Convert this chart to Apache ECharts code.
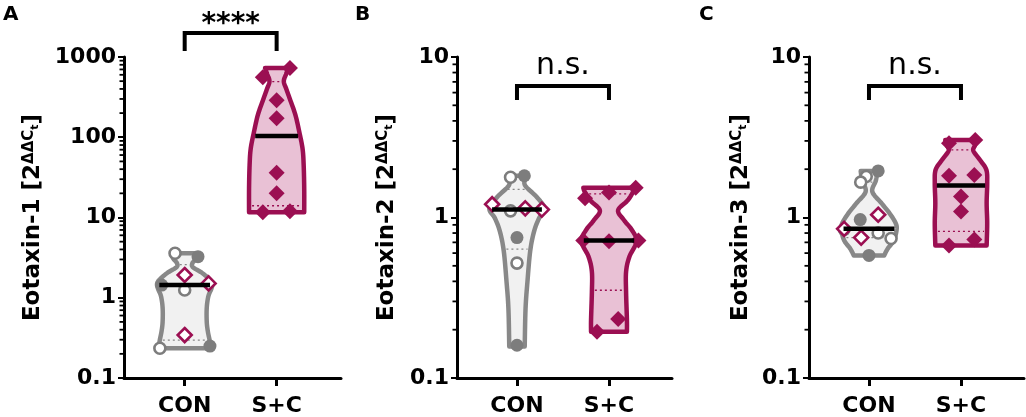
<!DOCTYPE html>
<html><head><meta charset="utf-8">
<script src="https://cdn.jsdelivr.net/npm/echarts@6/dist/echarts.min.js"></script>
<style>html,body{margin:0;padding:0;background:#fff}#c{width:1026px;height:417px}</style>
</head><body><div id="c"></div>
<script>
// ---------------- data ----------------
const groups = ['CON', 'S+C'];
const panelLetters = ['A', 'B', 'C'];
const yTitles = ['Eotaxin-1', 'Eotaxin-2', 'Eotaxin-3'];
const yMaxes = [1000, 10, 10];
const yMin = 0.1;
const minorTickFactors = [2, 3, 4, 5, 6, 7, 8, 9];
const sigLabels = ['****', 'n.s.', 'n.s.'];
const bracketTop = [1990, 6.6, 6.6];
const bracketFoot = [1190, 5.4, 5.4];

// Panel A
const aConFilled = [3.25, 1.44, 0.25];
const aConFilledX = [0.145, -0.25, 0.275];
const aConOpen = [3.58, 1.25, 0.235];
const aConOpenX = [-0.105, 0, -0.27];
const aConDiamond = [1.92, 1.51, 0.343];
const aConDiamondX = [0, 0.26, 0];
const aScDiamond = [730, 560, 290, 172, 36, 20, 12, 11.6];
const aScDiamondX = [0.145, -0.15, 0, 0, 0, 0, 0.145, -0.15];
const aConViolin = [[0.235,0.95],[0.3,0.9],[0.38,0.84],[0.5,0.8],[0.75,0.8],[1.05,0.86],[1.3,0.97],[1.5,1.0],[1.7,0.9],[2.05,0.62],[2.4,0.3],[2.7,0.28],[3.1,0.42],[3.58,0.45]];
const aScViolin = [[11.6,1.0],[23,1.0],[45,0.98],[72,0.94],[117,0.82],[190,0.68],[300,0.48],[400,0.35],[500,0.26],[620,0.35],[730,0.42]];

// Panel B
const bConFilled = [1.82, 0.75, 0.16];
const bConFilledX = [0.08, 0, 0];
const bConOpen = [1.78, 1.10, 0.52];
const bConOpenX = [-0.07, -0.07, 0];
const bConDiamond = [1.21, 1.14, 1.12];
const bConDiamondX = [-0.27, 0.09, 0.27];
const bScDiamond = [1.53, 1.43, 1.32, 0.72, 0.71, 0.72, 0.233, 0.194];
const bScDiamondX = [0.29, 0, -0.26, -0.28, 0, 0.32, 0.10, -0.13];
const bConViolin = [[0.157,0.28],[0.27,0.31],[0.4,0.38],[0.62,0.48],[0.82,0.62],[0.99,0.8],[1.14,1.0],[1.35,0.7],[1.6,0.28],[1.82,0.36]];
const bScViolin = [[0.194,0.65],[0.23,0.65],[0.34,0.62],[0.46,0.62],[0.57,0.74],[0.71,1.0],[0.836,0.83],[0.965,0.54],[1.11,0.33],[1.28,0.68],[1.45,0.88],[1.53,0.93]];

// Panel C
const cConFilled = [1.95, 0.97, 0.58, 0.84];
const cConFilledX = [0.10, -0.095, 0, -0.27];
const cConOpen = [1.80, 1.66, 0.80, 0.74];
const cConOpenX = [-0.03, -0.09, 0.10, 0.24];
const cConDiamond = [1.04, 0.85, 0.75];
const cConDiamondX = [0.10, -0.27, -0.085];
const cScDiamond = [3.04, 2.9, 1.84, 1.82, 1.35, 1.09, 0.73, 0.67];
const cScDiamondX = [0.155, -0.13, 0.145, -0.13, 0, 0, 0.145, -0.13];
const cConViolin = [[0.58,0.55],[0.64,0.68],[0.72,0.9],[0.836,1.0],[0.92,0.97],[1.06,0.75],[1.23,0.45],[1.45,0.12],[1.7,0.25],[1.95,0.3]];
const cScViolin = [[0.67,0.93],[0.92,0.95],[1.23,0.93],[1.63,0.95],[1.98,0.92],[2.28,0.69],[2.6,0.45],[2.8,0.5],[3.04,0.57]];

// ---------------- layout / style ----------------
const FONT = 'DejaVu Sans';
const GRAY = '#888888', GRAY_FILL = '#f1f1f1', GRAY_PT = '#7d7d7d';
const MAG = '#9b0f52', PINK = '#e9c1d5';
const MAXW = 0.30;
const layout = [
  {left:124, width:217, xMin:-0.66, xMax:1.70, nameGap:79, letterX:3, sigDy:-8, sigSize:28},
  {left:457, width:215, xMin:-0.652, xMax:1.685, nameGap:58, letterX:355, sigDy:-20, sigSize:30},
  {left:809, width:215, xMin:-0.652, xMax:1.685, nameGap:56, letterX:699, sigDy:-20, sigSize:30}
];
const GRID_TOP = 57, GRID_H = 321;

const panels = [
  {con:aConViolin, sc:aScViolin,
   conMarks:[[aConFilled,aConFilledX,'fc'],[aConOpen,aConOpenX,'oc'],[aConDiamond,aConDiamondX,'od']],
   scMarks:[[aScDiamond,aScDiamondX,'fd']]},
  {con:bConViolin, sc:bScViolin,
   conMarks:[[bConFilled,bConFilledX,'fc'],[bConOpen,bConOpenX,'oc'],[bConDiamond,bConDiamondX,'od']],
   scMarks:[[bScDiamond,bScDiamondX,'fd']]},
  {con:cConViolin, sc:cScViolin,
   conMarks:[[cConFilled,cConFilledX,'fc'],[cConOpen,cConOpenX,'oc'],[cConDiamond,cConDiamondX,'od']],
   scMarks:[[cScDiamond,cScDiamondX,'fd']]}
];

function profileAt(profile, v) {
  const lv = Math.log10(v);
  for (let i = 0; i < profile.length - 1; i++) {
    const a = Math.log10(profile[i][0]), b = Math.log10(profile[i+1][0]);
    if (lv >= a && lv <= b) { const t = (lv - a) / (b - a); return profile[i][1] + (profile[i+1][1] - profile[i][1]) * t; }
  }
  return lv < Math.log10(profile[0][0]) ? profile[0][1] : profile[profile.length-1][1];
}
function quantile(vals, p) {
  const s = vals.slice().sort((a,b)=>a-b), n = s.length;
  let pos = (n + 1) * p; pos = Math.max(1, Math.min(n, pos));
  const lo = Math.floor(pos), hi = Math.ceil(pos), t = pos - lo;
  return s[lo-1] + (s[hi-1] - s[lo-1]) * t;
}
// Catmull-Rom smoothing of an outline side (pixel space, drawing only)
function smoothSide(pts) {
  const out = [], n = pts.length, STEPS = 8;
  for (let i = 0; i < n - 1; i++) {
    const p0 = pts[Math.max(0, i-1)], p1 = pts[i], p2 = pts[i+1], p3 = pts[Math.min(n-1, i+2)];
    for (let s = 0; s < STEPS; s++) {
      const t = s / STEPS, t2 = t*t, t3 = t2*t;
      const f = k => 0.5 * ((2*p1[k]) + (-p0[k] + p2[k]) * t + (2*p0[k] - 5*p1[k] + 4*p2[k] - p3[k]) * t2 + (-p0[k] + 3*p1[k] - 3*p2[k] + p3[k]) * t3);
      out.push([f(0), f(1)]);
    }
  }
  out.push(pts[n-1]);
  return out;
}
const markStyle = {
  fc: {symbol:'circle', symbolSize:13, itemStyle:{color:GRAY_PT, opacity:1}},
  oc: {symbol:'circle', symbolSize:11, itemStyle:{color:'#fff', borderColor:GRAY_PT, borderWidth:2.6, opacity:1}},
  od: {symbol:'diamond', symbolSize:14, itemStyle:{color:'#fff', borderColor:MAG, borderWidth:2.6, opacity:1}},
  fd: {symbol:'diamond', symbolSize:16, itemStyle:{color:MAG, opacity:1}}
};

const grid = [], xAxis = [], yAxis = [], series = [], graphic = [];
const txt = {fontFamily:FONT, fontWeight:'bold', color:'#000'};

panels.forEach((P, i) => {
  const L = layout[i];
  grid.push({left:L.left, top:GRID_TOP, width:L.width, height:GRID_H});
  xAxis.push({type:'value', gridIndex:i, min:L.xMin, max:L.xMax,
    axisLine:{onZero:false, lineStyle:{color:'#000', width:3}},
    axisTick:{customValues:[0,1], length:8, lineStyle:{color:'#000', width:3}},
    axisLabel:Object.assign({customValues:[0,1], formatter:v=>groups[Math.round(v)], fontSize:22, margin:17}, txt),
    splitLine:{show:false}});
  yAxis.push({type:'log', logBase:10, gridIndex:i, min:yMin, max:yMaxes[i],
    axisLine:{show:true, onZero:false, lineStyle:{color:'#000', width:3}},
    axisTick:{show:true, length:6, lineStyle:{color:'#000', width:2}},
    axisLabel:Object.assign({fontSize:22, margin:8, formatter:v=>String(+(+v).toPrecision(3))}, txt),
    splitLine:{show:false},
    name:'{b|' + yTitles[i] + ' [2}{sup|ΔΔC}{sub|t}{b|]}',
    nameLocation:'middle', nameGap:L.nameGap, nameRotate:90,
    nameTextStyle:{fontFamily:FONT, fontWeight:'bold', color:'#000', fontSize:23,
      rich:{b:{fontFamily:FONT, fontWeight:'bold', fontSize:23, color:'#000'},
            sup:{fontFamily:FONT, fontWeight:'bold', fontSize:15, color:'#000', verticalAlign:'top'},
            sub:{fontFamily:FONT, fontWeight:'bold', fontSize:11, color:'#000', verticalAlign:'top', padding:[8,0,0,0]}}}
  });
  const xi = i, yi = i;
  const groupsDef = [[P.con, 0, GRAY, GRAY_FILL, P.conMarks, GRAY], [P.sc, 1, MAG, PINK, P.scMarks, MAG]];
  groupsDef.forEach(([prof, gi, stroke, fill, marks, dotColor]) => {
    const allVals = [].concat(...marks.map(m => m[0]));
    const med = quantile(allVals, 0.5);
    // violin body
    series.push({type:'custom', xAxisIndex:xi, yAxisIndex:yi, z:2, clip:false, silent:true,
      data:[[gi, med]],
      renderItem:(params, api) => {
        const right = smoothSide(prof.map(([v,w]) => api.coord([gi + w*MAXW, v])));
        const left = smoothSide(prof.map(([v,w]) => api.coord([gi - w*MAXW, v]))).reverse();
        return {type:'polygon', shape:{points:right.concat(left)},
          style:{fill:fill, stroke:stroke, lineWidth:4.5, lineJoin:'round'}};
      }});
    // quartiles
    series.push({type:'custom', xAxisIndex:xi, yAxisIndex:yi, z:3, clip:false, silent:true,
      data:[[gi, med]],
      renderItem:(params, api) => {
        const ch = [0.25, 0.75].map(p => {
          const q = quantile(allVals, p), w = profileAt(prof, q) * MAXW;
          const a = api.coord([gi - w, q]), b = api.coord([gi + w, q]);
          return {type:'line', shape:{x1:a[0]+3, y1:a[1], x2:b[0]-3, y2:b[1]},
            style:{stroke:dotColor, lineWidth:1.3, lineDash:[2,3]}};
        });
        return {type:'group', children:ch};
      }});
    // points
    marks.forEach(([vals, xs, kind]) => {
      const st = markStyle[kind];
      series.push({type:'scatter', xAxisIndex:xi, yAxisIndex:yi, z:4, silent:true,
        symbol:st.symbol, symbolSize:st.symbolSize, itemStyle:st.itemStyle,
        data:vals.map((v,k) => [gi + xs[k], v])});
    });
    // median
    series.push({type:'custom', xAxisIndex:xi, yAxisIndex:yi, z:5, clip:false, silent:true,
      data:[[gi, med]],
      renderItem:(params, api) => {
        const w = profileAt(prof, med) * MAXW;
        const a = api.coord([gi - w, med]), b = api.coord([gi + w, med]);
        return {type:'line', shape:{x1:a[0]+2, y1:a[1], x2:b[0]-2, y2:b[1]}, style:{stroke:'#000', lineWidth:4.5}};
      }});
  });
  // minor ticks
  series.push({type:'custom', xAxisIndex:xi, yAxisIndex:yi, z:1, clip:false, silent:true,
    data:[[L.xMin, 1]],
    renderItem:(params, api) => {
      const ch = [];
      for (let d = yMin; d < yMaxes[i] * 0.99; d *= 10) {
        minorTickFactors.forEach(f => {
          const p = api.coord([L.xMin, f * d]);
          ch.push({type:'line', shape:{x1:p[0]-4.5, y1:p[1], x2:p[0], y2:p[1]}, style:{stroke:'#000', lineWidth:1.8}});
        });
      }
      return {type:'group', children:ch};
    }});
  // significance bracket
  series.push({type:'custom', xAxisIndex:xi, yAxisIndex:yi, z:5, clip:false, silent:true,
    data:[[0, bracketTop[i]]],
    renderItem:(params, api) => {
      const p0 = api.coord([0, bracketFoot[i]]), p1 = api.coord([0, bracketTop[i]]);
      const p2 = api.coord([1, bracketTop[i]]), p3 = api.coord([1, bracketFoot[i]]);
      return {type:'group', children:[
        {type:'polyline', shape:{points:[p0,p1,p2,p3]}, style:{stroke:'#000', fill:null, lineWidth:4, lineJoin:'miter'}},
        {type:'text', x:(p1[0]+p2[0])/2, y:p1[1] + L.sigDy,
         style:{text:sigLabels[i], fontFamily:FONT, fontWeight: i === 0 ? 'bold' : 'normal', fontSize:L.sigSize, fill:'#000', align:'center', verticalAlign:'middle'}}
      ]};
    }});
  graphic.push({type:'text', left:L.letterX, top:5,
    style:{text:panelLetters[i], font:'bold 20px "DejaVu Sans"', fill:'#000'}});
});

const chart = echarts.init(document.getElementById('c'));
chart.setOption({animation:false, backgroundColor:'#fff', grid, xAxis, yAxis, series, graphic});
</script>
</body></html>
